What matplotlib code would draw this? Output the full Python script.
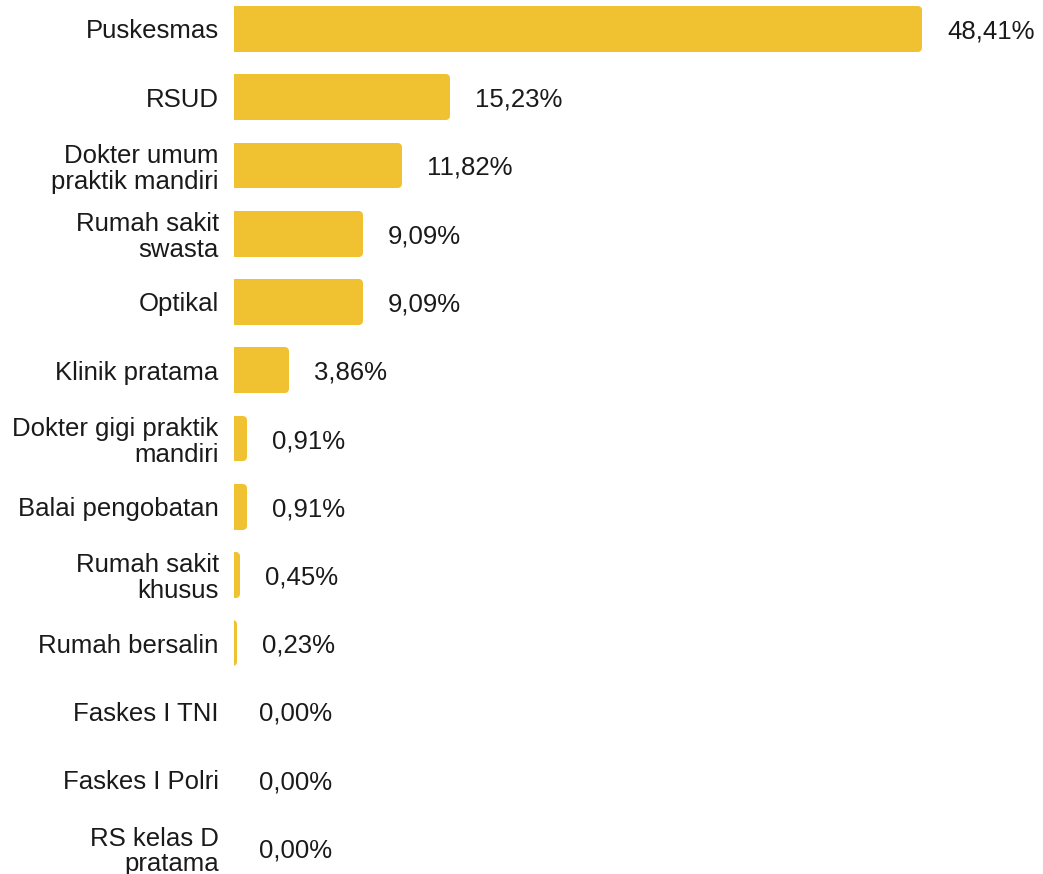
import matplotlib
matplotlib.use("Agg")
import matplotlib.pyplot as plt

categories = [
    "Puskesmas",
    "RSUD",
    "Dokter umum\npraktik mandiri",
    "Rumah sakit\nswasta",
    "Optikal",
    "Klinik pratama",
    "Dokter gigi praktik\nmandiri",
    "Balai pengobatan",
    "Rumah sakit\nkhusus",
    "Rumah bersalin",
    "Faskes I TNI",
    "Faskes I Polri",
    "RS kelas D\npratama",
]
values = [48.41, 15.23, 11.82, 9.09, 9.09, 3.86, 0.91, 0.91, 0.45, 0.23, 0.00, 0.00, 0.00]
value_labels = ["48,41%", "15,23%", "11,82%", "9,09%", "9,09%", "3,86%", "0,91%",
                "0,91%", "0,45%", "0,23%", "0,00%", "0,00%", "0,00%"]

BAR_COLOR = "#F0C232"
TEXT_COLOR = "#1a1a1a"
plt.rcParams["font.family"] = ["Liberation Sans", "DejaVu Sans"]

DPI = 100
W, H = 1043, 874
fig = plt.figure(figsize=(W / DPI, H / DPI), dpi=DPI)
x0 = 234
ax = fig.add_axes([x0 / W, 0, (W - x0) / W, 1])

px_per_unit = 688 / 48.41
ax.set_xlim(0, (W - x0) / px_per_unit)
row_px = 819 / 12
top = -29 / row_px
ax.set_ylim(top + H / row_px, top)

bar_h = 0.67
ypos = list(range(len(categories)))

# rounded right end: a thick round-joined outline around a shrunken bar;
# the left side spills past the axes edge and is clipped square
radius_px = 4
rx = radius_px / px_per_unit
ry = radius_px / row_px
lw_pt = 2 * radius_px * 72 / DPI
ax.barh(ypos, values, height=bar_h - 2 * ry, left=-rx,
        color=BAR_COLOR, edgecolor=[BAR_COLOR if v > 0 else "none" for v in values],
        linewidth=lw_pt, joinstyle="round")

fs = 18.5
for yi, v, lab in zip(ypos, values, value_labels):
    ax.annotate(lab, xy=(v, yi), xytext=(25, 0), textcoords="offset pixels",
                ha="left", va="center_baseline", fontsize=fs, color=TEXT_COLOR)

ax.set_yticks(ypos)
ax.set_yticklabels(categories, fontsize=fs, color=TEXT_COLOR, linespacing=1.08)
ax.tick_params(axis="y", length=0, pad=11)
ax.set_xticks([])
for s in ax.spines.values():
    s.set_visible(False)

fig.savefig("out.png", dpi=DPI)
